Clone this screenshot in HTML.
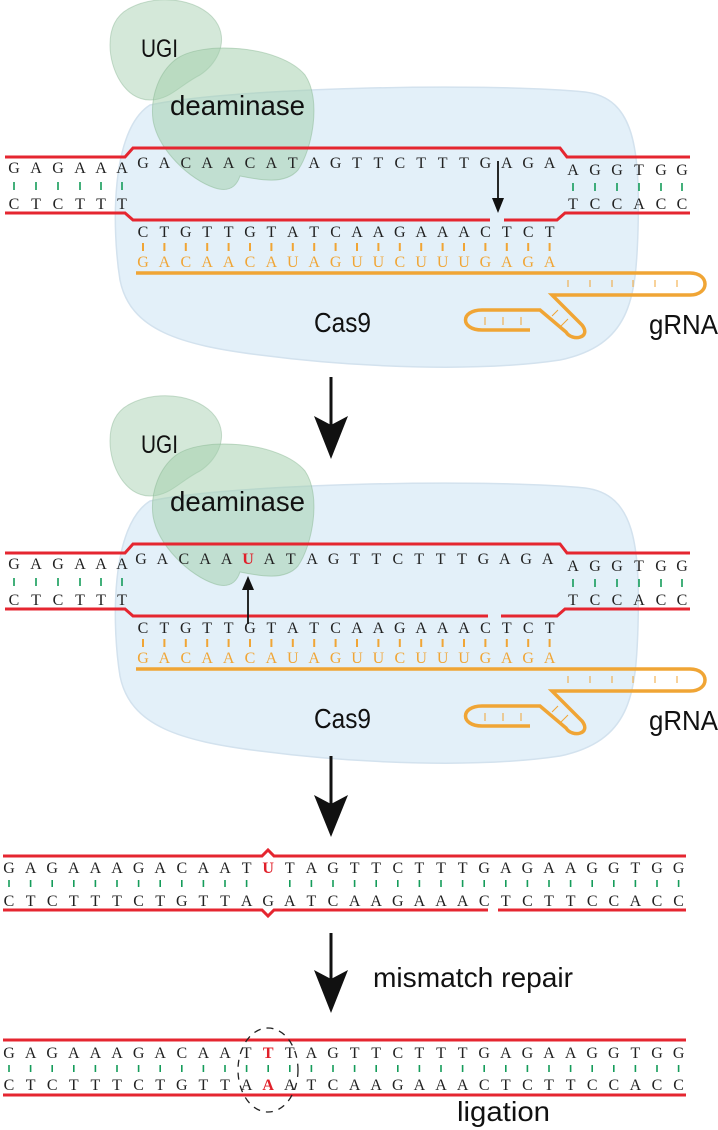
<!DOCTYPE html>
<html><head><meta charset="utf-8"><style>
html,body{margin:0;padding:0;background:#fff;}
svg{display:block;}
.s{font-family:"Liberation Serif",serif;font-size:16px;fill:#222;text-anchor:middle;}
.o{fill:#f0a535;}
.r{fill:#e0202a;font-weight:bold;}
.l{font-family:"Liberation Sans",sans-serif;fill:#111;}
</style></head><body>
<svg width="718" height="1130" viewBox="0 0 718 1130" xmlns="http://www.w3.org/2000/svg">
<defs>
<g id="blobs">
  <path d="M150 105 C230 88 480 82 585 92 C635 98 640 150 638 230 C636 300 630 345 560 360 C480 372 360 368 260 355 C180 345 130 330 120 280 C112 230 110 130 150 105 Z" fill="#e3f0f9" stroke="#d3e2ee" stroke-width="1.5"/>
  <path d="M130 8 C160 -8 205 0 218 25 C228 45 215 65 200 75 C180 85 170 100 150 100 C125 100 110 70 110 45 C110 25 118 14 130 8 Z" fill="rgba(170,210,180,0.5)" stroke="rgba(150,190,160,0.5)"/>
  <path d="M175 60 C200 40 280 45 305 75 C322 100 312 150 298 170 C285 185 260 180 240 176 C236 188 228 192 215 188 C190 180 158 150 153 120 C150 95 160 72 175 60 Z" fill="rgba(160,205,170,0.5)" stroke="rgba(140,185,150,0.5)"/>
  <text class="l" x="141" y="57" font-size="25" textLength="37" lengthAdjust="spacingAndGlyphs">UGI</text>
  <text class="l" x="170" y="115" font-size="28" textLength="135" lengthAdjust="spacingAndGlyphs">deaminase</text>
  <text class="l" x="314" y="332" font-size="28" textLength="57" lengthAdjust="spacingAndGlyphs">Cas9</text>
  <text class="l" x="649" y="334" font-size="28" textLength="69" lengthAdjust="spacingAndGlyphs">gRNA</text>
  <path d="M136 273 H690 C710 273 710 295 690 295 H552 L582 325 C592 338 572 342 566 332 L540 310 H482 C460 310 460 330 482 330 H530" fill="none" stroke="#f0a535" stroke-width="3.5"/>
  <g stroke="#f0a535" stroke-width="1">
    <path d="M568 280V287M590 280V287M612 280V287M633 280V287M655 280V287M677 280V287M485 317V325M503 317V325M521 317V325M552 316L558 310M561 326L568 319"/>
  </g>
  <path d="M5 157H125L133 148H560L567 157H690" fill="none" stroke="#e52630" stroke-width="3"/>
  <text class="s" x="14 36 58 80 101 122" y="173">GAGAAA</text>
  <text class="s" x="573 595 617 639 661 682" y="175">AGGTGG</text>
  <g stroke="#159c5a" stroke-width="1.6">
    <path d="M14 182V190M36 182V190M58 182V190M80 182V190M101 182V190M122 182V190M573 183V191M595 183V191M617 183V191M639 183V191M661 183V191M682 183V191"/>
  </g>
  <text class="s" x="14 36 58 80 101 122" y="209">CTCTTT</text>
  <text class="s" x="573 595 617 639 661 682" y="209">TCCACC</text>
  <text class="s" x="143 164.4 185.8 207.2 228.6 250 271.4 292.8 314.2 335.6 357 378.4 399.8 421.2 442.6 464 485.4 506.8 528.2 549.6" y="237">CTGTTGTATCAAGAAACTCT</text>
  <g stroke="#f0a535" stroke-width="2">
    <path d="M143 243V251M164.4 243V251M185.8 243V251M207.2 243V251M228.6 243V251M250 243V251M271.4 243V251M292.8 243V251M314.2 243V251M335.6 243V251M357 243V251M378.4 243V251M399.8 243V251M421.2 243V251M442.6 243V251M464 243V251M485.4 243V251M506.8 243V251M528.2 243V251M549.6 243V251"/>
  </g>
  <text class="s o" x="143 164.4 185.8 207.2 228.6 250 271.4 292.8 314.2 335.6 357 378.4 399.8 421.2 442.6 464 485.4 506.8 528.2 549.6" y="267">GACAACAUAGUUCUUUGAGA</text>
</g>
</defs>

<!-- Panel 1 -->
<use href="#blobs"/>
<text class="s" x="143 164.4 185.8 207.2 228.6 250 271.4 292.8 314.2 335.6 357 378.4 399.8 421.2 442.6 464 485.4 506.8 528.2 549.6" y="168">GACAACATAGTTCTTTGAGA</text>
<path d="M5 213H125L133 220H490M504 220H557L565 213H690" fill="none" stroke="#e52630" stroke-width="3"/>
<line x1="498" y1="161" x2="498" y2="200" stroke="#111" stroke-width="1.8"/>
<path d="M492 198L498 213L504 198Z" fill="#111"/>

<!-- arrow 1 -->
<line x1="331" y1="377" x2="331" y2="430" stroke="#111" stroke-width="3"/>
<path d="M314 416L331 425L348 416L331 459Z" fill="#111"/>

<!-- Panel 2 -->
<g transform="translate(0,396)">
<use href="#blobs"/>
<text class="s" x="141 162.4 183.8 205.2 226.6 248 269.4 290.8 312.2 333.6 355 376.4 397.8 419.2 440.6 462 483.4 504.8 526.2 547.6" y="168">GACAA ATAGTTCTTTGAGA</text>
<text class="s r" x="248" y="168">U</text>
<path d="M5 213H125L133 220H488M501 220H557L565 213H690" fill="none" stroke="#e52630" stroke-width="3"/>
<line x1="248" y1="228" x2="248" y2="192" stroke="#111" stroke-width="1.8"/>
<path d="M242 194L248 180L254 194Z" fill="#111"/>
</g>

<!-- arrow 2 -->
<line x1="331" y1="756" x2="331" y2="810" stroke="#111" stroke-width="3"/>
<path d="M314 795L331 804L348 795L331 837Z" fill="#111"/>

<!-- Panel 3 -->
<path d="M3 856H262L268 850L274 856H686" fill="none" stroke="#e52630" stroke-width="3"/>
<text class="s" x="9 30.6 52.2 73.8 95.4 117 138.6 160.2 181.8 203.4 225 246.6 268.2 289.8 311.4 333 354.6 376.2 397.8 419.4 441 462.6 484.2 505.8 527.4 549 570.6 592.2 613.8 635.4 657 678.6" y="873">GAGAAAGACAAT TAGTTCTTTGAGAAGGTGG</text>
<text class="s r" x="268.2" y="873">U</text>
<g stroke="#159c5a" stroke-width="1.6">
<path d="M9 880V887M30.6 880V887M52.2 880V887M73.8 880V887M95.4 880V887M117 880V887M138.6 880V887M160.2 880V887M181.8 880V887M203.4 880V887M225 880V887M246.6 880V887M289.8 880V887M311.4 880V887M333 880V887M354.6 880V887M376.2 880V887M397.8 880V887M419.4 880V887M441 880V887M462.6 880V887M484.2 880V887M505.8 880V887M527.4 880V887M549 880V887M570.6 880V887M592.2 880V887M613.8 880V887M635.4 880V887M657 880V887M678.6 880V887"/>
</g>
<text class="s" x="9 30.6 52.2 73.8 95.4 117 138.6 160.2 181.8 203.4 225 246.6 268.2 289.8 311.4 333 354.6 376.2 397.8 419.4 441 462.6 484.2 505.8 527.4 549 570.6 592.2 613.8 635.4 657 678.6" y="906">CTCTTTCTGTTAGATCAAGAAACTCTTCCACC</text>
<path d="M3 910H262L268 916L274 910H488M498 910H686" fill="none" stroke="#e52630" stroke-width="3"/>

<!-- arrow 3 -->
<line x1="331" y1="933" x2="331" y2="985" stroke="#111" stroke-width="3"/>
<path d="M314 970L331 979L348 970L331 1013Z" fill="#111"/>
<text class="l" x="373" y="987" font-size="28" textLength="200" lengthAdjust="spacingAndGlyphs">mismatch repair</text>

<!-- Panel 4 -->
<path d="M3 1040H686" fill="none" stroke="#e52630" stroke-width="3"/>
<text class="s" x="9 30.6 52.2 73.8 95.4 117 138.6 160.2 181.8 203.4 225 246.6 268.2 289.8 311.4 333 354.6 376.2 397.8 419.4 441 462.6 484.2 505.8 527.4 549 570.6 592.2 613.8 635.4 657 678.6" y="1058">GAGAAAGACAAT TAGTTCTTTGAGAAGGTGG</text>
<text class="s r" x="268.2" y="1058">T</text>
<g stroke="#159c5a" stroke-width="1.6">
<path d="M9 1065V1072M30.6 1065V1072M52.2 1065V1072M73.8 1065V1072M95.4 1065V1072M117 1065V1072M138.6 1065V1072M160.2 1065V1072M181.8 1065V1072M203.4 1065V1072M225 1065V1072M246.6 1065V1072M268.2 1065V1072M289.8 1065V1072M311.4 1065V1072M333 1065V1072M354.6 1065V1072M376.2 1065V1072M397.8 1065V1072M419.4 1065V1072M441 1065V1072M462.6 1065V1072M484.2 1065V1072M505.8 1065V1072M527.4 1065V1072M549 1065V1072M570.6 1065V1072M592.2 1065V1072M613.8 1065V1072M635.4 1065V1072M657 1065V1072M678.6 1065V1072"/>
</g>
<text class="s" x="9 30.6 52.2 73.8 95.4 117 138.6 160.2 181.8 203.4 225 246.6 268.2 289.8 311.4 333 354.6 376.2 397.8 419.4 441 462.6 484.2 505.8 527.4 549 570.6 592.2 613.8 635.4 657 678.6" y="1090">CTCTTTCTGTTA ATCAAGAAACTCTTCCACC</text>
<text class="s r" x="268.2" y="1090">A</text>
<path d="M3 1095H686" fill="none" stroke="#e52630" stroke-width="3"/>
<ellipse cx="268" cy="1070" rx="30" ry="42" fill="none" stroke="#222" stroke-width="1.3" stroke-dasharray="7 6"/>
<text class="l" x="457" y="1121" font-size="28" textLength="93" lengthAdjust="spacingAndGlyphs">ligation</text>
</svg>
</body></html>
